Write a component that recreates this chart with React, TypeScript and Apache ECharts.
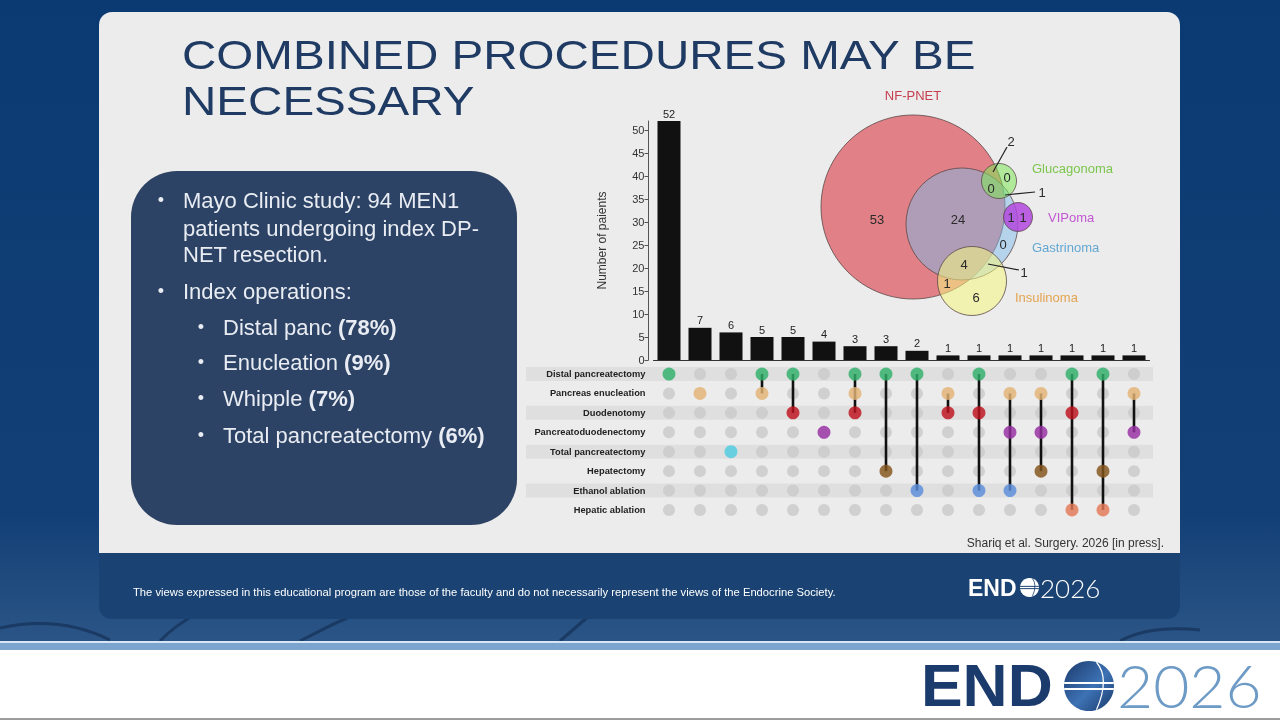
import React, { useEffect, useRef } from "react";
import * as echarts from "echarts";

// ---------------- DATA ----------------
const combinationIds = ["C1", "C2", "C3", "C4", "C5", "C6", "C7", "C8", "C9", "C10", "C11", "C12", "C13", "C14", "C15", "C16"];
const patientCounts = [52, 7, 6, 5, 5, 4, 3, 3, 2, 1, 1, 1, 1, 1, 1, 1];
const yTickValues = [0, 5, 10, 15, 20, 25, 30, 35, 40, 45, 50];
const yAxisMax = 52;
const procedures = [
  "Distal pancreatectomy",
  "Pancreas enucleation",
  "Duodenotomy",
  "Pancreatoduodenectomy",
  "Total pancreatectomy",
  "Hepatectomy",
  "Ethanol ablation",
  "Hepatic ablation",
];
const procedureColors = ["#2fb36b", "#e8b879", "#c2111d", "#9a2fa6", "#4fd0e6", "#87561b", "#5b8ee0", "#ea7c57"];
// membership (row indices) of each combination column
const combinationMembers = [
  [0], [1], [4], [0, 1], [0, 2], [3], [0, 1, 2], [0, 5],
  [0, 6], [1, 2], [0, 2, 6], [1, 3, 6], [1, 3, 5], [0, 2, 7], [0, 5, 7], [1, 3],
];

const vennSetNames = ["NF-PNET", "Glucagonoma", "VIPoma", "Gastrinoma", "Insulinoma"];
const vennRegionCounts = [53, 24, 2, 0, 0, 1, 1, 1, 0, 4, 1, 1, 6];

const titleLines = ["COMBINED PROCEDURES MAY BE", "NECESSARY"];
const bulletLines = ["Mayo Clinic study: 94 MEN1", "patients undergoing index DP-", "NET resection.", "Index operations:"];
const subOperations = ["Distal panc", "Enucleation", "Whipple", "Total pancreatectomy"];
const subPercents = ["78%", "9%", "7%", "6%"];
const citation = "Shariq et al. Surgery. 2026 [in press].";
const disclaimer =
  "The views expressed in this educational program are those of the faculty and do not necessarily represent the views of the Endocrine Society.";

// ---------------- LAYOUT ----------------
const FONT = "'Liberation Sans', Arial, Helvetica, sans-serif";
const vennCircles = [
  { cx: 913, cy: 207, r: 92, fill: "rgba(224,122,130,0.95)" },
  { cx: 962, cy: 224, r: 56, fill: "rgba(125,185,232,0.5)" },
  { cx: 999, cy: 181, r: 17.5, fill: "rgba(125,232,85,0.55)" },
  { cx: 1018, cy: 217, r: 14.5, fill: "rgba(178,72,222,0.85)" },
  { cx: 972, cy: 281, r: 34.5, fill: "rgba(246,246,128,0.55)" },
];
const vennLabelPos = [
  { x: 913, y: 95, align: "center", color: "#c63f4e" },
  { x: 1032, y: 168, align: "left", color: "#7cc64d" },
  { x: 1048, y: 217, align: "left", color: "#c257d2" },
  { x: 1032, y: 247, align: "left", color: "#63a8d3" },
  { x: 1015, y: 297, align: "left", color: "#e3a451" },
];
const vennRegionPos = [
  [877, 219], [958, 219], [1011, 141], [1007, 177], [991, 188], [1042, 192],
  [1011, 217], [1023, 217], [1003, 244], [964, 264], [1024, 272], [947, 283], [976, 297],
];
const vennLeaders = [
  [1007, 147, 993, 172],
  [1035, 192, 1005, 195],
  [1019, 270, 988, 264],
];

function globe(cx: number, cy: number, r: number, dark: boolean): any[] {
  const els: any[] = [];
  els.push({
    type: "circle",
    shape: { cx, cy, r },
    style: {
      fill: dark
        ? { type: "linear", x: 0, y: 0, x2: 1, y2: 1, colorStops: [{ offset: 0, color: "#1b3a6c" }, { offset: 0.55, color: "#3d72b4" }, { offset: 1, color: "#1b3a6c" }] }
        : "#ffffff",
    },
  });
  const stripe = dark ? "#ffffff" : "#1a4373";
  [-0.12, 0.12].forEach((k) => {
    const dy = k * r;
    const half = Math.sqrt(r * r - dy * dy);
    els.push({
      type: "line",
      shape: { x1: cx - half, y1: cy + dy, x2: cx + half, y2: cy + dy },
      style: { stroke: stripe, lineWidth: Math.max(1, r * 0.08) },
    });
  });
  els.push({
    type: "bezierCurve",
    shape: { x1: cx + r * 0.3, y1: cy - r * 0.95, cpx1: cx + r * 0.85, cpy1: cy - r * 0.3, x2: cx + r * 0.3, y2: cy + r * 0.95 },
    style: { stroke: stripe, lineWidth: Math.max(0.8, r * 0.05), fill: null },
  });
  return els;
}

function buildGraphic(): any[] {
  const g: any[] = [];
  // page background
  g.push({
    type: "rect",
    shape: { x: 0, y: 0, width: 1280, height: 642 },
    style: {
      fill: { type: "linear", x: 0, y: 0, x2: 0, y2: 1, colorStops: [{ offset: 0, color: "#0b3a72" }, { offset: 0.8, color: "#123f76" }, { offset: 1, color: "#2b5586" }] },
    },
  });
  // decorative faint fibres under the footer
  const fibres = [
    [0, 628, 60, 615, 110, 640],
    [160, 641, 175, 625, 200, 612],
    [300, 641, 330, 625, 360, 612],
    [560, 641, 575, 628, 590, 615],
    [1120, 641, 1150, 625, 1200, 630],
  ];
  fibres.forEach((f) =>
    g.push({
      type: "bezierCurve",
      shape: { x1: f[0], y1: f[1], cpx1: f[2], cpy1: f[3], x2: f[4], y2: f[5] },
      style: { stroke: "rgba(8,28,60,0.45)", lineWidth: 3, fill: null },
    })
  );
  g.push({ type: "rect", shape: { x: 0, y: 641, width: 1280, height: 2 }, style: { fill: "#d6e6f4" } });
  g.push({ type: "rect", shape: { x: 0, y: 643, width: 1280, height: 7 }, style: { fill: "#7ba4cf" } });
  g.push({ type: "rect", shape: { x: 0, y: 650, width: 1280, height: 68 }, style: { fill: "#ffffff" } });
  g.push({ type: "rect", shape: { x: 0, y: 718, width: 1280, height: 2 }, style: { fill: "#9c9c9c" } });

  // slide card + footer band
  g.push({ type: "rect", shape: { x: 99, y: 12, width: 1081, height: 541, r: [13, 13, 0, 0] }, style: { fill: "#ececec" } });
  g.push({ type: "rect", shape: { x: 99, y: 553, width: 1081, height: 66, r: [0, 0, 13, 13] }, style: { fill: "#1a4373" } });

  // title
  titleLines.forEach((t, i) =>
    g.push({
      type: "text",
      x: 182,
      y: i === 0 ? 55 : 101,
      scaleX: 1.16,
      style: { text: t, fill: "#1f3b63", fontSize: 41, fontFamily: FONT, align: "left", verticalAlign: "middle" },
    })
  );

  // text box
  g.push({ type: "rect", shape: { x: 131, y: 171, width: 386, height: 354, r: 46 }, style: { fill: "#2d4365" } });
  const mainYs = [200, 228, 254, 291];
  bulletLines.forEach((t, i) => {
    if (i === 0 || i === 3) {
      g.push({ type: "text", x: 161, y: mainYs[i], style: { text: "•", fill: "#e9edf3", fontSize: 18, fontFamily: FONT, align: "center", verticalAlign: "middle" } });
    }
    g.push({ type: "text", x: 183, y: mainYs[i], style: { text: t, fill: "#e9edf3", fontSize: 22, fontFamily: FONT, align: "left", verticalAlign: "middle" } });
  });
  const subYs = [327, 362, 398, 435];
  subOperations.forEach((t, i) => {
    g.push({ type: "text", x: 201, y: subYs[i], style: { text: "•", fill: "#e9edf3", fontSize: 18, fontFamily: FONT, align: "center", verticalAlign: "middle" } });
    g.push({
      type: "text",
      x: 223,
      y: subYs[i],
      style: {
        text: `{n|${t} }{b|(${subPercents[i]})}`,
        align: "left",
        verticalAlign: "middle",
        rich: {
          n: { fill: "#e9edf3", fontSize: 22, fontFamily: FONT },
          b: { fill: "#e9edf3", fontSize: 22, fontFamily: FONT, fontWeight: "bold" },
        },
      },
    });
  });

  // venn diagram
  vennCircles.forEach((c) =>
    g.push({ type: "circle", shape: { cx: c.cx, cy: c.cy, r: c.r }, style: { fill: c.fill, stroke: "#5a4848", lineWidth: 0.8 } })
  );
  vennLeaders.forEach((l) =>
    g.push({ type: "line", shape: { x1: l[0], y1: l[1], x2: l[2], y2: l[3] }, style: { stroke: "#222", lineWidth: 1.2 } })
  );
  vennRegionCounts.forEach((v, i) =>
    g.push({
      type: "text",
      x: vennRegionPos[i][0],
      y: vennRegionPos[i][1],
      style: { text: String(v), fill: "#2a2a2a", fontSize: 13, fontFamily: FONT, align: "center", verticalAlign: "middle" },
    })
  );
  vennSetNames.forEach((n, i) =>
    g.push({
      type: "text",
      x: vennLabelPos[i].x,
      y: vennLabelPos[i].y,
      style: { text: n, fill: vennLabelPos[i].color, fontSize: 13, fontFamily: FONT, align: vennLabelPos[i].align, verticalAlign: "middle" },
    })
  );

  // citation
  g.push({ type: "text", x: 1164, y: 543, style: { text: citation, fill: "#333", fontSize: 12, fontFamily: FONT, align: "right", verticalAlign: "middle" } });

  // footer
  g.push({ type: "text", x: 133, y: 592, scaleX: 1.02, style: { text: disclaimer, fill: "#ffffff", fontSize: 11, fontFamily: FONT, align: "left", verticalAlign: "middle" } });
  g.push({ type: "text", x: 968, y: 588, style: { text: "END", fill: "#ffffff", fontSize: 23, fontWeight: "bold", fontFamily: FONT, align: "left", verticalAlign: "middle" } });
  globe(1029.5, 587.5, 9.5, false).forEach((e) => g.push(e));
  g.push({ type: "text", x: 1040, y: 588, style: { text: "2026", fill: "#ffffff", fontSize: 26, fontWeight: 300, fontFamily: "Lato, " + FONT, align: "left", verticalAlign: "middle" } });

  // bottom logo
  g.push({ type: "text", x: 921, y: 685, scaleX: 1.04, style: { text: "END", fill: "#1c3b6d", fontSize: 60, fontWeight: "bold", fontFamily: FONT, align: "left", verticalAlign: "middle" } });
  globe(1089, 686, 25, true).forEach((e) => g.push(e));
  g.push({ type: "text", x: 1117, y: 685, scaleX: 1.04, style: { text: "2026", fill: "#6d9bc6", fontSize: 60, fontWeight: 300, fontFamily: "Lato, " + FONT, align: "left", verticalAlign: "middle" } });
  return g;
}

function buildOption(): any {
  const gridCells: number[][] = [];
  combinationIds.forEach((_, c) => procedures.forEach((__, r) => gridCells.push([c, r])));
  const activeCells: any[] = [];
  const connectors: number[][] = [];
  combinationMembers.forEach((m, c) => {
    m.forEach((r) => activeCells.push({ value: [c, r], itemStyle: { color: procedureColors[r] } }));
    if (m.length > 1) connectors.push([c, Math.min(...m), Math.max(...m)]);
  });
  const bandRows = procedures.map((_, i) => [0, i]).filter((d) => d[1] % 2 === 0);

  return {
    animation: false,
    backgroundColor: "transparent",
    textStyle: { fontFamily: FONT },
    graphic: { elements: buildGraphic() },
    grid: [
      { left: 653.5, top: 121, width: 496, height: 239 },
      { left: 653.5, top: 364.3, width: 496, height: 155.4 },
    ],
    xAxis: [
      {
        type: "category",
        gridIndex: 0,
        data: combinationIds,
        axisLine: { show: true, lineStyle: { color: "#333", width: 1 } },
        axisTick: { show: false },
        axisLabel: { show: false },
      },
      { type: "category", gridIndex: 1, data: combinationIds, show: false },
    ],
    yAxis: [
      {
        type: "value",
        gridIndex: 0,
        min: 0,
        max: yAxisMax,
        offset: 5,
        axisLine: { show: true, lineStyle: { color: "#555" } },
        axisTick: { show: true, length: 4, customValues: yTickValues, lineStyle: { color: "#555" } },
        axisLabel: { customValues: yTickValues, fontSize: 11, color: "#333", margin: 4, fontFamily: FONT },
        splitLine: { show: false },
        name: "Number of paients",
        nameLocation: "middle",
        nameGap: 41,
        nameTextStyle: { fontSize: 12, color: "#333", fontFamily: FONT },
      },
      {
        type: "category",
        gridIndex: 1,
        data: procedures,
        inverse: true,
        z: 6,
        axisLine: { show: false },
        axisTick: { show: false },
        axisLabel: { interval: 0, fontSize: 9.3, fontWeight: "bold", color: "#222", margin: 8, fontFamily: FONT },
      },
    ],
    series: [
      {
        type: "bar",
        xAxisIndex: 0,
        yAxisIndex: 0,
        data: patientCounts,
        barWidth: 23,
        itemStyle: { color: "#111111" },
        label: { show: true, position: "top", distance: 2, fontSize: 11, color: "#222", fontFamily: FONT },
      },
      {
        type: "custom",
        xAxisIndex: 1,
        yAxisIndex: 1,
        data: bandRows,
        silent: true,
        z: 1,
        renderItem: (params: any, api: any) => {
          const y = api.coord([0, api.value(1)])[1];
          const cs = params.coordSys;
          return {
            type: "rect",
            shape: { x: cs.x - 127.5, y: y - 7, width: cs.width + 131, height: 14 },
            style: { fill: "#dfdfdf" },
          };
        },
      },
      {
        type: "scatter",
        xAxisIndex: 1,
        yAxisIndex: 1,
        data: gridCells,
        symbolSize: 12,
        silent: true,
        itemStyle: { color: "#c9c9c9" },
        z: 2,
      },
      {
        type: "custom",
        xAxisIndex: 1,
        yAxisIndex: 1,
        data: connectors,
        silent: true,
        z: 3,
        renderItem: (params: any, api: any) => {
          const a = api.coord([api.value(0), api.value(1)]);
          const b = api.coord([api.value(0), api.value(2)]);
          return { type: "line", shape: { x1: a[0], y1: a[1], x2: b[0], y2: b[1] }, style: { stroke: "#111", lineWidth: 2.6 } };
        },
      },
      {
        type: "scatter",
        xAxisIndex: 1,
        yAxisIndex: 1,
        data: activeCells,
        symbolSize: 13,
        silent: true,
        z: 4,
      },
    ],
  };
}

export default function App() {
  const ref = useRef<HTMLDivElement>(null);
  useEffect(() => {
    if (!ref.current) return;
    const chart = echarts.init(ref.current, null, { renderer: "svg" });
    chart.setOption(buildOption());
    return () => chart.dispose();
  }, []);
  return <div ref={ref} style={{ position: "fixed", left: 0, top: 0, width: 1280, height: 720 }} />;
}
